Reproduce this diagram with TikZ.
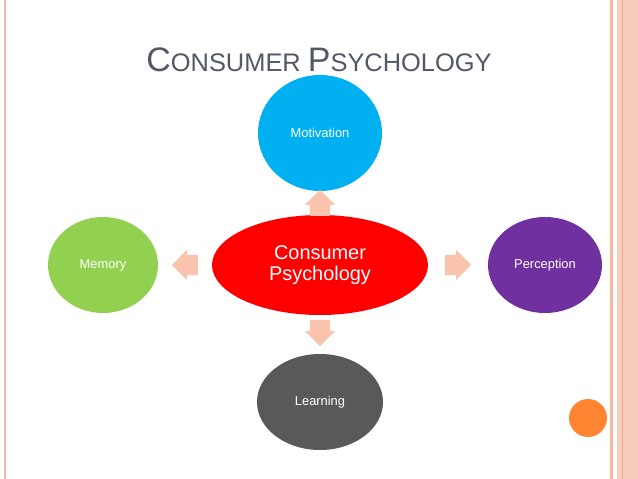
\documentclass[tikz,border=0pt]{standalone}
\usepackage{fontspec}
\setmainfont{Liberation Sans}
\usetikzlibrary{shapes.geometric,shapes.arrows}
\definecolor{salmon}{HTML}{F9C3AE}
\definecolor{bord}{HTML}{F4B9A3}
\definecolor{titlec}{HTML}{535866}
\begin{document}
\begin{tikzpicture}[x=0.03cm,y=-0.03cm,
  blob/.style={ellipse,inner sep=0pt,text=white,font=\fontsize{11}{13}\selectfont},
  blk/.style={single arrow,fill=salmon,draw=none,minimum height=26*0.03cm,inner xsep=0pt,inner ysep=0.3cm,single arrow head extend=0.14cm}]
\useasboundingbox (0,0) rectangle (638,479);
\fill[white] (0,0) rectangle (638,479);
% borders
\fill[bord] (4,0) rectangle (6,479);
\fill[bord] (610,0) rectangle (613,479);
\fill[bord!70] (617,0) rectangle (638,479);
\fill[bord!120] (621.5,0) rectangle (622.5,479);
% title
\node[text=titlec] (title) at (319,60) {\fontsize{29}{31}\selectfont C\fontsize{21.7}{24}\selectfont ONSUMER \fontsize{29}{31}\selectfont P\fontsize{21.7}{24}\selectfont SYCHOLOGY};
\node[blob,fill={rgb,255:red,0;green,176;blue,240},minimum width=124*0.03cm,minimum height=116*0.03cm] (mot) at (320,133) {Motivation};
\node[blob,fill={rgb,255:red,146;green,208;blue,80},minimum width=110*0.03cm,minimum height=96*0.03cm] (mem) at (103,265) {Memory};
\node[blob,fill={rgb,255:red,112;green,48;blue,160},minimum width=114*0.03cm,minimum height=96*0.03cm] (per) at (545,265) {Perception};
\node[blob,fill={rgb,255:red,88;green,89;blue,91},minimum width=126*0.03cm,minimum height=96*0.03cm] (lea) at (320,402) {Learning};
\node[blob,fill=red,minimum width=216*0.03cm,minimum height=100*0.03cm,font=\fontsize{17}{18}\selectfont,align=center] (cen) at (320,265) {Consumer\\Psychology};
\node[blk,rotate=90] (au) at (320,208) {};
\node[blk,rotate=-90] (ad) at (320,328) {};
\node[blk,rotate=180] (al) at (190,265) {};
\node[blk] (ar) at (453,265) {};
\node[circle,fill={rgb,255:red,255;green,133;blue,51},minimum size=38*0.03cm,inner sep=0pt] (dot) at (588,418) {};
\end{tikzpicture}
\end{document}
